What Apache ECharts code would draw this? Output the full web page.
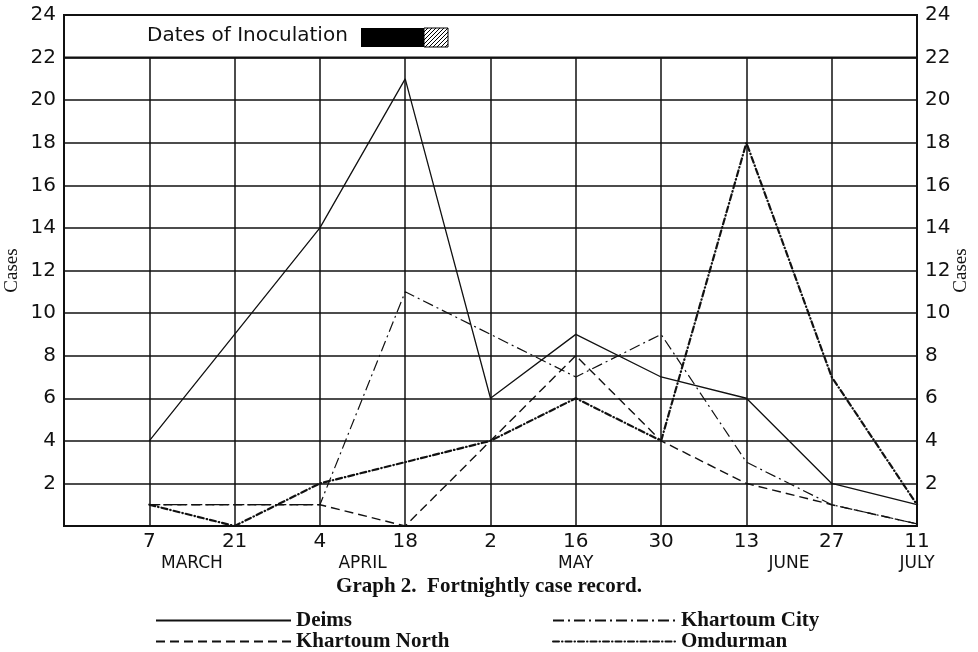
<!DOCTYPE html>
<html lang="en">
<head>
    <meta charset="UTF-8">
    <title>Graph 2. Fortnightly case record</title>
    <script src="https://cdn.jsdelivr.net/npm/echarts@6/dist/echarts.min.js"></script>
    <style>
        html, body { margin: 0; padding: 0; background: #fff; }
        #chart { width: 978px; height: 652px; }
    </style>
</head>
<body>
    <div id="chart"></div>
    <script>
        // fortnight dates (first slot is the empty space before 7 March)
        var days = ['', '7', '21', '4', '18', '2', '16', '30', '13', '27', '11'];
        var months = ['MARCH', 'APRIL', 'MAY', 'JUNE', 'JULY'];
        var monthAt = [1.5, 3.5, 6, 8.5, 10];   // where each month name sits on the date scale
        var yTicks = [2, 4, 6, 8, 10, 12, 14, 16, 18, 20, 22, 24];

        var deims         = [4, 9, 14, 21, 6, 9, 7, 6, 2, 1];
        var khartoumNorth = [1, 1, 1, 0, 4, 8, 4, 2, 1, 0.1];
        var khartoumCity  = [1, 1, 1, 11, 9, 7, 9, 3, 1, 0.1];
        var omdurman      = [1, 0, 2, 3, 4, 6, 4, 18, 7, 1];

        var ink = '#111';
        var sans = 'DejaVu Sans';
        var serif = 'Liberation Serif';

        function pad(arr) { return [null].concat(arr); }

        // little hatch tile for the end of the inoculation bar
        var hatch = document.createElement('canvas');
        hatch.width = 4; hatch.height = 4;
        var hc = hatch.getContext('2d');
        hc.fillStyle = '#fff'; hc.fillRect(0, 0, 4, 4);
        hc.strokeStyle = '#000'; hc.lineWidth = 1;
        hc.beginPath(); hc.moveTo(0, 4); hc.lineTo(4, 0); hc.stroke();

        var yAxisBase = {
            type: 'value',
            min: 0,
            max: 24,
            interval: 2,
            name: 'Cases',
            nameLocation: 'middle',
            nameRotate: 90,
            nameMoveOverlap: false,
            nameTextStyle: { fontFamily: serif, fontSize: 19, color: ink },
            axisLine: { show: false },
            axisTick: { show: false },
            axisLabel: {
                color: ink, fontFamily: sans, fontSize: 20,
                formatter: function (v) { return yTicks.indexOf(v) >= 0 ? v : ''; }
            }
        };

        // one legend box per entry so the two columns line up like the print
        function legendAt(name, left, top, width) {
            return {
                data: [name],
                left: left, top: top,
                padding: 0,
                itemWidth: width, itemHeight: 12,
                itemStyle: { opacity: 0 },
                textStyle: { fontFamily: serif, fontWeight: 'bold', fontSize: 21, color: ink }
            };
        }

        var chart = echarts.init(document.getElementById('chart'));
        var option = {
            animation: false,
            backgroundColor: '#fff',
            color: [ink, ink, ink, ink],
            grid: {
                left: 64, right: 61, top: 15, bottom: 126,
                outerBoundsMode: 'none',
                show: true, borderColor: ink, borderWidth: 2
            },
            title: {
                text: 'Graph 2.  Fortnightly case record.',
                left: 'center',
                top: 571,
                textStyle: { fontFamily: serif, fontWeight: 'bold', fontSize: 21, color: ink }
            },
            legend: [
                legendAt('Deims', 155, 610, 135),
                legendAt('Khartoum North', 155, 631, 135),
                legendAt('Khartoum City', 552, 610, 123),
                legendAt('Omdurman', 552, 631, 123)
            ],
            xAxis: [{
                type: 'category',
                data: days,
                boundaryGap: false,
                axisLine: { show: false },
                axisTick: { show: false },
                axisLabel: { color: ink, fontFamily: sans, fontSize: 20, margin: 6, interval: 0 },
                splitLine: { show: true, lineStyle: { color: ink, width: 1.5 } }
            }, {
                type: 'value',
                min: 0,
                max: 10,
                position: 'bottom',
                axisLine: { show: false },
                axisTick: { show: false },
                splitLine: { show: false },
                axisLabel: {
                    customValues: monthAt,
                    margin: 29,
                    color: ink, fontFamily: sans, fontSize: 17,
                    formatter: function (v) { return months[monthAt.indexOf(v)]; }
                }
            }],
            yAxis: [
                Object.assign({}, yAxisBase, {
                    position: 'left', nameGap: 42,
                    splitLine: { show: true, lineStyle: { color: ink, width: 1.5 } }
                }),
                Object.assign({}, yAxisBase, {
                    position: 'right', nameGap: 35,
                    splitLine: { show: false }
                })
            ],
            series: [{
                name: 'Deims',
                type: 'line',
                data: pad(deims),
                symbol: 'none',
                lineStyle: { color: ink, width: 1.3, type: 'solid' },
                markArea: {
                    silent: true,
                    itemStyle: { color: '#fff', borderColor: ink, borderWidth: 2 },
                    data: [[{ yAxis: 22 }, { yAxis: 24 }]]
                }
            }, {
                name: 'Khartoum North',
                type: 'line',
                data: pad(khartoumNorth),
                symbol: 'none',
                lineStyle: { color: ink, width: 1.4, type: [9, 5] }
            }, {
                name: 'Khartoum City',
                type: 'line',
                data: pad(khartoumCity),
                symbol: 'none',
                lineStyle: { color: ink, width: 1.2, type: [11, 4, 2, 4] }
            }, {
                name: 'Omdurman',
                type: 'line',
                data: pad(omdurman),
                symbol: 'none',
                lineStyle: { color: ink, width: 2.2, type: [6, 3, 0.5, 3], cap: 'round' }
            }],
            graphic: [{
                type: 'text',
                left: 147, top: 26,
                z: 100,
                style: { text: 'Dates of Inoculation', fontFamily: sans, fontSize: 20, fill: ink }
            }, {
                type: 'rect',
                z: 100,
                shape: { x: 361, y: 28, width: 63, height: 19 },
                style: { fill: '#000' }
            }, {
                type: 'rect',
                z: 100,
                shape: { x: 424, y: 28, width: 24, height: 19 },
                style: { fill: { image: hatch, repeat: 'repeat' }, stroke: '#000', lineWidth: 1 }
            }]
        };
        chart.setOption(option);
    </script>
</body>
</html>
